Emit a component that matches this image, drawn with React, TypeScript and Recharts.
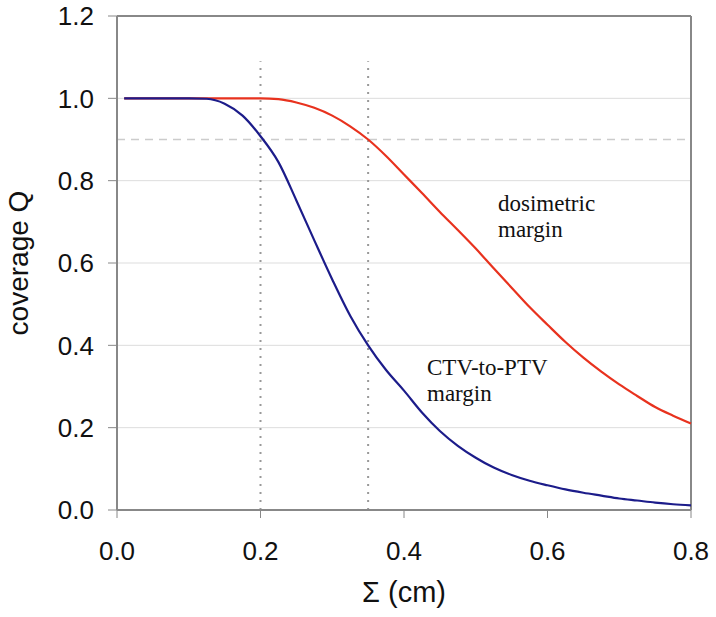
import React from 'react';
import {
  LineChart,
  Line,
  XAxis,
  YAxis,
  CartesianGrid,
  ReferenceLine,
  Label,
} from 'recharts';

const sigma = [0.01, 0.025, 0.05, 0.075, 0.1, 0.125, 0.15, 0.175, 0.2, 0.225, 0.25, 0.275, 0.3, 0.325, 0.35, 0.375, 0.4, 0.425, 0.45, 0.475, 0.5, 0.525, 0.55, 0.575, 0.6, 0.625, 0.65, 0.675, 0.7, 0.725, 0.75, 0.775, 0.8];
const dosimetric = [1, 1, 1, 1, 1, 1, 1, 1, 1, 0.998, 0.99, 0.977, 0.958, 0.932, 0.9, 0.86, 0.815, 0.77, 0.724, 0.68, 0.635, 0.587, 0.54, 0.493, 0.45, 0.408, 0.37, 0.336, 0.305, 0.277, 0.25, 0.229, 0.21];
const ctvToPtv = [1, 1, 1, 1, 1, 0.999, 0.987, 0.958, 0.908, 0.845, 0.752, 0.655, 0.56, 0.472, 0.4, 0.34, 0.29, 0.237, 0.192, 0.156, 0.127, 0.103, 0.085, 0.071, 0.06, 0.05, 0.042, 0.035, 0.028, 0.023, 0.018, 0.014, 0.011];

const xTicks = [0, 0.2, 0.4, 0.6, 0.8];
const yTicks = [0, 0.2, 0.4, 0.6, 0.8, 1.0, 1.2];
const markerX = [0.2, 0.35];
const targetQ = 0.9;

const data = sigma.map((s, i) => ({ s, dosimetric: dosimetric[i], ctv: ctvToPtv[i] }));

const font = '"Liberation Sans", Arial, Helvetica, sans-serif';
const serif = '"Liberation Serif", "Times New Roman", serif';

const App = () => {
  return (
    <div style={{ position: 'absolute', left: 0, top: 0, width: 716, height: 617, background: '#fff' }}>
      <LineChart
        width={716}
        height={617}
        data={data}
        margin={{ top: 16, right: 25, left: 0, bottom: 7 }}
      >
        <CartesianGrid vertical={false} stroke="#dddddd" strokeWidth={1} />
        <XAxis
          type="number"
          dataKey="s"
          domain={[0, 0.8]}
          ticks={xTicks}
          tickFormatter={(v) => v.toFixed(1)}
          height={100}
          tick={{ fill: '#111', fontSize: 26, fontFamily: font }}
          tickSize={8}
          tickMargin={24}
          axisLine={{ stroke: '#888', strokeWidth: 2 }}
          tickLine={{ stroke: '#888', strokeWidth: 1 }}
        >
          <Label value="Σ (cm)" position="insideBottom" offset={8} style={{ fontSize: 29, fontFamily: font, fill: '#111' }} />
        </XAxis>
        <YAxis
          type="number"
          domain={[0, 1.2]}
          ticks={yTicks}
          tickFormatter={(v) => v.toFixed(1)}
          width={117}
          tick={{ fill: '#111', fontSize: 26, fontFamily: font }}
          tickSize={9}
          tickMargin={14}
          axisLine={{ stroke: '#888', strokeWidth: 2 }}
          tickLine={{ stroke: '#888', strokeWidth: 1 }}
        >
          <Label value="coverage Q" angle={-90} position="insideLeft" offset={18} style={{ fontSize: 28, fontFamily: font, fill: '#111', textAnchor: 'middle' }} />
        </YAxis>
        <ReferenceLine y={1.2} stroke="#888" strokeWidth={2} />
        <ReferenceLine x={0.8} stroke="#888" strokeWidth={2} />
        <ReferenceLine y={targetQ} stroke="#cccccc" strokeWidth={1.5} strokeDasharray="8 6" />
        {markerX.map((m) => (
          <ReferenceLine
            key={m}
            segment={[{ x: m, y: 0 }, { x: m, y: 1.09 }]}
            stroke="#999"
            strokeWidth={2}
            strokeDasharray="2 6"
          />
        ))}
        <Line
          type="monotone"
          dataKey="dosimetric"
          stroke="#e8321e"
          strokeWidth={2.2}
          dot={false}
          isAnimationActive={false}
        />
        <Line
          type="monotone"
          dataKey="ctv"
          stroke="#1c1c8a"
          strokeWidth={2.2}
          dot={false}
          isAnimationActive={false}
        />
      </LineChart>
      <div style={{ position: 'absolute', left: 498, top: 191, fontFamily: serif, fontSize: 23, lineHeight: '26px', color: '#111' }}>
        dosimetric<br />margin
      </div>
      <div style={{ position: 'absolute', left: 427, top: 355, fontFamily: serif, fontSize: 23, lineHeight: '26px', color: '#111' }}>
        CTV-to-PTV<br />margin
      </div>
    </div>
  );
};

export default App;
